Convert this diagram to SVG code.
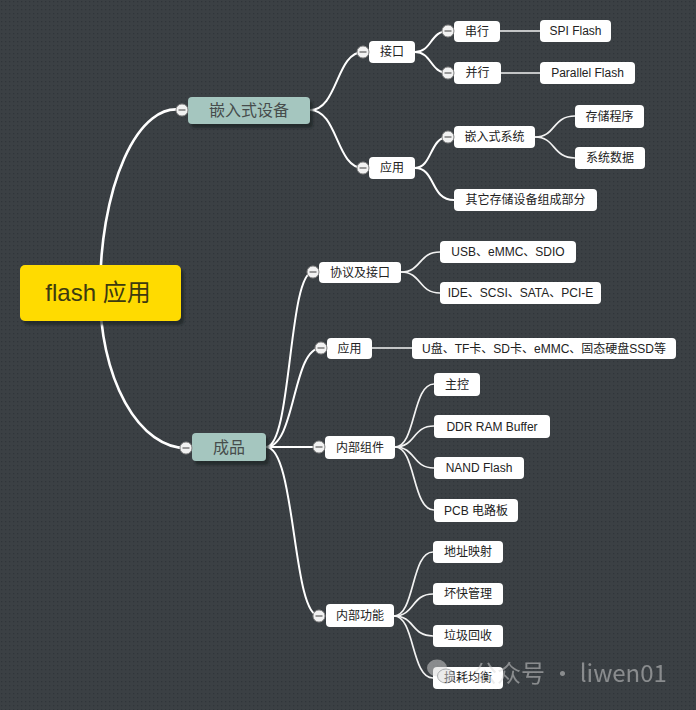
<svg xmlns="http://www.w3.org/2000/svg" width="696" height="710" viewBox="0 0 696 710">
<defs>
<pattern id="dots" width="4" height="4" patternUnits="userSpaceOnUse">
<rect width="4" height="4" fill="#3b4044"/>
<rect x="1" y="1" width="1.3" height="1.3" fill="#30353a"/>
</pattern>
<filter id="sh" x="-10%" y="-10%" width="130%" height="150%">
<feDropShadow dx="3" dy="4" stdDeviation="1" flood-color="#1e2124" flood-opacity="0.7"/>
</filter>
<g id="col">
<circle r="6" fill="#f2f2f2" stroke="#8a8a8a" stroke-width="1"/>
<line x1="-3.5" y1="0" x2="3.5" y2="0" stroke="#666" stroke-width="1.3"/>
</g>
</defs>
<style>
.c0{fill:none;stroke:#ffffff;stroke-width:2.6;stroke-linecap:round}
.c1{fill:none;stroke:#ffffff;stroke-width:2;stroke-linecap:round}
.c2{fill:none;stroke:#f2f2f2;stroke-width:1.7;stroke-linecap:round}
.n{fill:#ffffff}
.l1{fill:#a5c6bf;filter:url(#sh)}
.t{font-family:"Liberation Sans","Noto Sans CJK SC",sans-serif;font-size:12px;fill:#222;text-anchor:middle;dominant-baseline:central}
.t1{font-family:"Liberation Sans","Noto Sans CJK SC",sans-serif;font-size:16px;fill:#474d4c;text-anchor:middle;dominant-baseline:central}
</style>
<rect width="696" height="710" fill="url(#dots)"/>

<g id="connectors">
<path class="c0" d="M100,293 A76,183 0 0 1 182,110"/>
<path class="c0" d="M100,293 A86,155 0 0 0 186,448"/>
<path class="c1" d="M310,110 C338,110 336,52 363,52"/>
<path class="c1" d="M310,110 C338,110 336,168 363,168"/>
<path class="c1" d="M415,52 C432,52 430,31 448,31"/>
<path class="c1" d="M415,52 C432,52 430,73 448,73"/>
<path class="c2" d="M500,31 L540,31"/>
<path class="c2" d="M501,73 L540,73"/>
<path class="c1" d="M415,168 C432,168 430,137 448,137"/>
<path class="c1" d="M415,168 C436,168 430,200 454,200"/>
<path class="c2" d="M535,137 C556,137 552,116 575,116"/>
<path class="c2" d="M535,137 C556,137 552,158 575,158"/>
<path class="c1" d="M266,447 C292,447 288,272 313,272"/>
<path class="c1" d="M266,447 C296,447 292,348 321,348"/>
<path class="c1" d="M266,447 L319,447"/>
<path class="c1" d="M266,447 C296,447 292,616 319,616"/>
<path class="c2" d="M401,272 C422,272 418,252 440,252"/>
<path class="c2" d="M401,272 C422,272 418,293 440,293"/>
<path class="c2" d="M372,348 L412,348"/>
<path class="c2" d="M395,447 C416,447 412,384 434,384"/>
<path class="c2" d="M395,447 C416,447 412,426 434,426"/>
<path class="c2" d="M395,447 C416,447 412,468 434,468"/>
<path class="c2" d="M395,447 C416,447 412,510 434,510"/>
<path class="c2" d="M394,616 C415,616 411,552 433,552"/>
<path class="c2" d="M394,616 C415,616 411,594 433,594"/>
<path class="c2" d="M394,616 C415,616 411,636 433,636"/>
<path class="c2" d="M394,616 C415,616 411,678 433,678"/>
</g>

<g id="root">
<rect x="20" y="265" width="161" height="56" rx="5" fill="#ffdb00" filter="url(#sh)"/>
<text x="98" y="292" font-family="'Liberation Sans','Noto Sans CJK SC',sans-serif" font-size="24" fill="#3d3a10" text-anchor="middle" dominant-baseline="central">flash 应用</text>
</g>

<g id="n-embedded">
<rect class="l1" x="188" y="97" width="122" height="27" rx="4"/>
<text class="t1" x="249" y="110.5">嵌入式设备</text>
<use href="#col" x="182" y="110"/>
</g>
<g id="n-product">
<rect class="l1" x="192" y="433" width="74" height="28" rx="4"/>
<text class="t1" x="229" y="447">成品</text>
<use href="#col" x="186" y="448"/>
</g>

<g id="n-jiekou">
<rect class="n" x="369" y="41" width="46" height="22" rx="4"/>
<text class="t" x="392" y="52">接口</text>
<use href="#col" x="363" y="52"/>
</g>
<g id="n-yingyong1">
<rect class="n" x="369" y="157" width="46" height="22" rx="4"/>
<text class="t" x="392" y="168">应用</text>
<use href="#col" x="363" y="168"/>
</g>
<g id="n-chuanxing">
<rect class="n" x="454" y="21" width="46" height="21" rx="4"/>
<text class="t" x="477" y="31.5">串行</text>
<use href="#col" x="448" y="31"/>
</g>
<g id="n-bingxing">
<rect class="n" x="454" y="62" width="47" height="22" rx="4"/>
<text class="t" x="477.5" y="73">并行</text>
<use href="#col" x="448" y="73"/>
</g>
<g id="n-spi">
<rect class="n" x="540" y="20" width="71" height="22" rx="4"/>
<text class="t" x="575.5" y="31">SPI Flash</text>
</g>
<g id="n-parallel">
<rect class="n" x="540" y="62" width="95" height="22" rx="4"/>
<text class="t" x="587.5" y="73">Parallel Flash</text>
</g>
<g id="n-embsys">
<rect class="n" x="454" y="126" width="81" height="22" rx="4"/>
<text class="t" x="494.5" y="137">嵌入式系统</text>
<use href="#col" x="448" y="137"/>
</g>
<g id="n-other">
<rect class="n" x="454" y="189" width="143" height="22" rx="4"/>
<text class="t" x="525.5" y="200">其它存储设备组成部分</text>
</g>
<g id="n-prog">
<rect class="n" x="575" y="105" width="69" height="23" rx="4"/>
<text class="t" x="609.5" y="116.5">存储程序</text>
</g>
<g id="n-sysdata">
<rect class="n" x="575" y="147" width="70" height="22" rx="4"/>
<text class="t" x="610" y="158">系统数据</text>
</g>

<g id="n-proto">
<rect class="n" x="319" y="262" width="82" height="21" rx="4"/>
<text class="t" x="360" y="272.5">协议及接口</text>
<use href="#col" x="313" y="272"/>
</g>
<g id="n-usb">
<rect class="n" x="440" y="241" width="136" height="22" rx="4"/>
<text class="t" x="508" y="252">USB、eMMC、SDIO</text>
</g>
<g id="n-ide">
<rect class="n" x="440" y="282" width="161" height="22" rx="4"/>
<text class="t" x="520.5" y="293">IDE、SCSI、SATA、PCI-E</text>
</g>
<g id="n-yingyong2">
<rect class="n" x="327" y="338" width="45" height="21" rx="4"/>
<text class="t" x="349.5" y="348.5">应用</text>
<use href="#col" x="321" y="348"/>
</g>
<g id="n-udisk">
<rect class="n" x="412" y="338" width="264" height="21" rx="4"/>
<text class="t" x="544" y="348.5">U盘、TF卡、SD卡、eMMC、固态硬盘SSD等</text>
</g>
<g id="n-components">
<rect class="n" x="325" y="436" width="70" height="23" rx="4"/>
<text class="t" x="360" y="447.5">内部组件</text>
<use href="#col" x="319" y="447"/>
</g>
<g id="n-ctrl">
<rect class="n" x="434" y="373" width="46" height="23" rx="4"/>
<text class="t" x="457" y="384.5">主控</text>
</g>
<g id="n-ddr">
<rect class="n" x="434" y="415" width="116" height="23" rx="4"/>
<text class="t" x="492" y="426.5">DDR RAM Buffer</text>
</g>
<g id="n-nand">
<rect class="n" x="434" y="457" width="90" height="22" rx="4"/>
<text class="t" x="479" y="468">NAND Flash</text>
</g>
<g id="n-pcb">
<rect class="n" x="434" y="499" width="84" height="23" rx="4"/>
<text class="t" x="476" y="510.5">PCB 电路板</text>
</g>
<g id="n-functions">
<rect class="n" x="326" y="604" width="68" height="23" rx="4"/>
<text class="t" x="360" y="615.5">内部功能</text>
<use href="#col" x="319" y="616"/>
</g>
<g id="n-addr">
<rect class="n" x="433" y="541" width="70" height="22" rx="4"/>
<text class="t" x="468" y="552">地址映射</text>
</g>
<g id="n-bad">
<rect class="n" x="433" y="583" width="70" height="22" rx="4"/>
<text class="t" x="468" y="594">坏快管理</text>
</g>
<g id="n-gc">
<rect class="n" x="433" y="625" width="70" height="22" rx="4"/>
<text class="t" x="468" y="636">垃圾回收</text>
</g>
<g id="n-wear">
<rect class="n" x="433" y="667" width="70" height="22" rx="4"/>
<text class="t" x="468" y="678">损耗均衡</text>
</g>

<g id="watermark" opacity="0.5">
<ellipse cx="437" cy="668" rx="10" ry="8.5" fill="#d8d8d8"/>
<ellipse cx="446" cy="676" rx="8.5" ry="7" fill="#d8d8d8" stroke="#5a5f63" stroke-width="1"/>
<text x="473" y="682" font-family="'Noto Sans CJK SC','Liberation Sans',sans-serif" font-size="24" fill="#d8d8d8">公众号 · liwen01</text>
</g>
</svg>
